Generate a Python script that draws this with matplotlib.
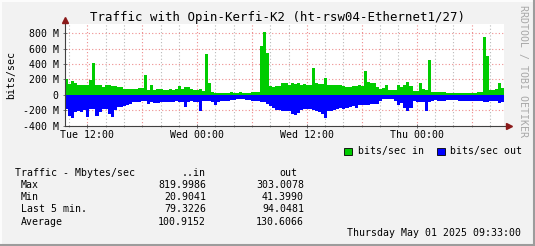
import matplotlib
matplotlib.use("Agg")
import matplotlib.pyplot as plt
import matplotlib.dates as mdates
from matplotlib.lines import Line2D
from matplotlib.patches import Rectangle
import numpy as np
import pandas as pd

# 20-minute averages, Mbit/s, Tue 29 Apr 09:33 -> Thu 01 May 09:33
start = "2025-04-29 09:33"
step = "20min"

traffic_in = [
    200, 143, 174, 157, 130, 122, 122, 122, 187, 413, 122, 122, 96, 130, 125, 120, 110, 100,
    100, 70, 70, 70, 70, 70, 85, 85, 260, 60, 130, 57, 70, 70, 57, 60, 70, 60,
    78, 109, 78, 100, 100, 78, 57, 57, 70, 45, 530, 152, 35, 22, 22, 22, 22, 22,
    35, 22, 22, 35, 22, 22, 22, 35, 35, 35, 640, 820, 540, 120, 100, 113, 113, 152,
    157, 130, 152, 139, 152, 130, 145, 130, 122, 348, 152, 139, 139, 217, 130, 122, 122, 130,
    130, 109, 100, 100, 109, 109, 122, 109, 309, 165, 152, 152, 100, 78, 90, 130, 57, 65,
    57, 122, 100, 122, 160, 110, 50, 48, 150, 70, 60, 457, 40, 35, 30, 38, 35, 22,
    22, 22, 22, 22, 22, 22, 22, 22, 22, 35, 35, 752, 500, 57, 57, 78, 152, 85,
]
traffic_out = [
    190, 270, 303, 230, 210, 226, 200, 290, 190, 190, 270, 230, 190, 190, 250, 295, 200, 165,
    160, 140, 135, 117, 100, 96, 90, 87, 87, 120, 96, 113, 113, 96, 96, 96, 96, 96,
    87, 96, 96, 160, 96, 80, 96, 96, 210, 87, 87, 87, 96, 130, 90, 87, 87, 87,
    74, 74, 61, 61, 55, 65, 65, 80, 87, 87, 96, 96, 117, 148, 174, 204, 204, 217,
    217, 217, 248, 261, 239, 200, 191, 191, 191, 200, 209, 220, 248, 300, 217, 209, 200, 191,
    174, 191, 174, 165, 152, 174, 139, 139, 130, 130, 117, 117, 117, 87, 61, 61, 61, 61,
    87, 139, 104, 174, 217, 174, 87, 96, 96, 96, 209, 96, 80, 74, 80, 78, 78, 70,
    70, 70, 70, 78, 78, 78, 78, 87, 87, 87, 87, 96, 96, 87, 87, 87, 104, 94,
]

y_ticks = [-400, -200, 0, 200, 400, 600, 800]
stat_rows = ["Max", "Min", "Last 5 min.", "Average"]
stat_in = ["819.9986", "20.9041", "79.3226", "100.9152"]
stat_out = ["303.0078", "41.3990", "94.0481", "130.6066"]

W, H = 535, 246
plt.rcParams["font.family"] = ["DejaVu Sans Mono"]
fs = 7.1

fig = plt.figure(figsize=(W / 100, H / 100), dpi=100, facecolor="#f2f2f2")


def fx(px):
    return px / W


def fy(py):
    return 1 - py / H


ax = fig.add_axes([fx(65), fy(125.5), fx(504) - fx(65), fy(24) - fy(125.5)])
ax.set_facecolor("white")

t = pd.date_range(start, periods=len(traffic_in) + 1, freq=step)
vin = np.array(traffic_in + traffic_in[-1:], dtype=float)
vout = -np.array(traffic_out + traffic_out[-1:], dtype=float)
ax.fill_between(t, 0, vin, step="post", color="#00cc00", lw=0, zorder=2)
ax.fill_between(t, 0, vout, step="post", color="#0000ff", lw=0, zorder=2)

ax.set_xlim(t[0], t[-1])
ax.set_ylim(-400, 920)

# grid (behind the areas)
minor_t = pd.date_range("2025-04-29 10:00", t[-1], freq="2h")
major_t = pd.date_range("2025-04-29 12:00", t[-1], freq="6h")
for tt in minor_t:
    if tt not in major_t:
        ax.axvline(tt, color="#8c8c8c", alpha=0.6, lw=0.8, ls=(0, (1, 2)), zorder=1)
for tt in major_t:
    ax.axvline(tt, color="#e03030", alpha=0.55, lw=0.8, ls=(0, (1, 2)), zorder=1)
for v in y_ticks:
    ax.axhline(v, color="#e03030", alpha=0.55, lw=0.8, ls=(0, (1, 2)), zorder=1)

ax.set_yticks(y_ticks)
ax.set_yticklabels([f"{v} M" if v else "0" for v in y_ticks], fontsize=fs)
ax.xaxis.set_major_locator(mdates.HourLocator(byhour=[0, 12]))
ax.xaxis.set_minor_locator(mdates.HourLocator(byhour=range(0, 24, 2)))
ax.xaxis.set_major_formatter(mdates.DateFormatter("%a %H:%M"))
ax.tick_params(axis="both", labelsize=fs, direction="inout", length=3, width=0.6,
               color="#606060")
ax.tick_params(axis="x", which="minor", direction="inout", length=2, width=0.6,
               color="#909090")
ax.tick_params(axis="x", pad=2)
ax.tick_params(axis="y", pad=3)

for s in ax.spines.values():
    s.set_visible(False)

# axes with arrows
ax.add_line(Line2D([0, 1.012], [0, 0], transform=ax.transAxes, color="#404040",
                   lw=0.8, clip_on=False, zorder=5))
ax.add_line(Line2D([0, 0], [0, 1.02], transform=ax.transAxes, color="#404040",
                   lw=0.8, clip_on=False, zorder=5))
ax.plot([1.012], [0], transform=ax.transAxes, marker=">", ms=4, color="#8b1a1a",
        clip_on=False, zorder=6)
ax.plot([0], [1.04], transform=ax.transAxes, marker="^", ms=4, color="#8b1a1a",
        clip_on=False, zorder=6)

fig.text(fx(277), fy(17), "Traffic with Opin-Kerfi-K2 (ht-rsw04-Ethernet1/27)",
         fontsize=8.9, ha="center", va="center")
fig.text(fx(11), fy(75), "bits/sec", fontsize=fs, rotation=90, ha="center",
         va="center")
fig.text(fx(523), fy(71), "RRDTOOL / TOBI OETIKER", fontsize=fs, rotation=270,
         ha="center", va="center", color="#a8a8a8")

# legend
for bx, tx, col, lab in [(344, 358, "#00cc00", "bits/sec in"),
                         (437, 450, "#0000ff", "bits/sec out")]:
    fig.add_artist(Rectangle((fx(bx), fy(155)), fx(7.5), 7.5 / H,
                             transform=fig.transFigure, fc=col, ec="black", lw=0.6))
    fig.text(fx(tx), fy(151), lab, fontsize=fs, va="center")

# stats table
fig.text(fx(15), fy(173), "Traffic - Mbytes/sec", fontsize=fs, va="center")
fig.text(fx(206), fy(173), "..in", fontsize=fs, va="center", ha="right")
fig.text(fx(279), fy(173), "out", fontsize=fs, va="center")
for i, (lab, a, b) in enumerate(zip(stat_rows, stat_in, stat_out)):
    y = fy(185 + 12.2 * i)
    fig.text(fx(21), y, lab, fontsize=fs, va="center")
    fig.text(fx(206), y, a, fontsize=fs, va="center", ha="right")
    fig.text(fx(304), y, b, fontsize=fs, va="center", ha="right")

fig.text(fx(521), fy(233), "Thursday May 01 2025 09:33:00", fontsize=fs,
         va="center", ha="right")

# 3d-ish frame
fig.add_artist(Line2D([0, 1], [fy(0.5)] * 2, transform=fig.transFigure, color="#fcfcfc", lw=1.5))
fig.add_artist(Line2D([fx(0.5)] * 2, [0, 1], transform=fig.transFigure, color="#fcfcfc", lw=1.5))
fig.add_artist(Line2D([0, 1], [fy(245)] * 2, transform=fig.transFigure, color="#9c9c9c", lw=1.5))
fig.add_artist(Line2D([fx(534)] * 2, [0, 1], transform=fig.transFigure, color="#9c9c9c", lw=1.5))

fig.savefig("out.png", dpi=100, facecolor=fig.get_facecolor())
